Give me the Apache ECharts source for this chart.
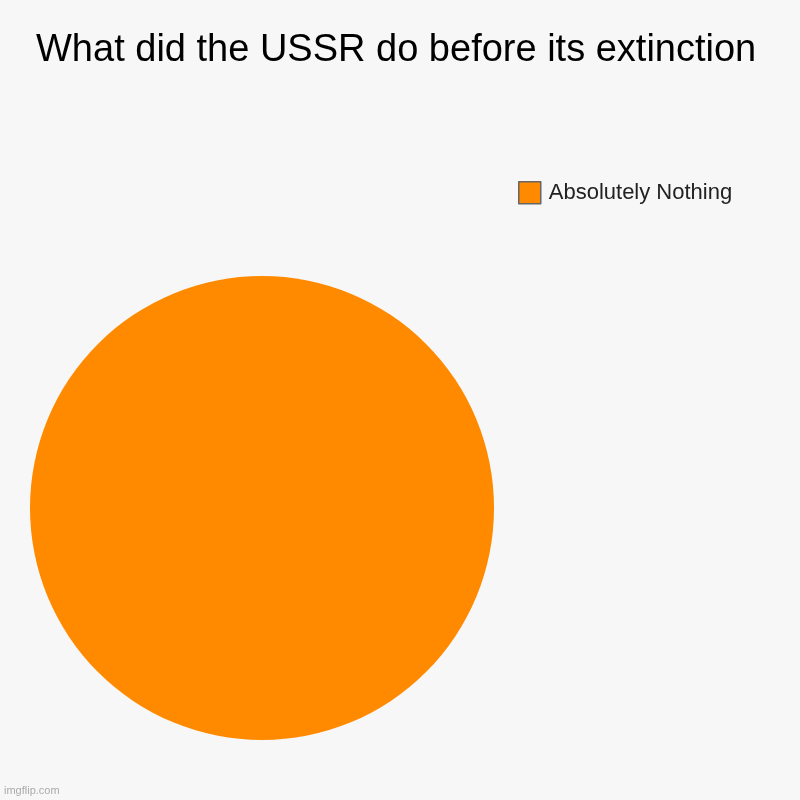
<!DOCTYPE html>
<html>
<head>
<meta charset="utf-8">
<script src="https://cdn.jsdelivr.net/npm/echarts@6/dist/echarts.min.js"></script>
<style>
  html, body { margin: 0; padding: 0; background: #f7f7f7; }
  #main { width: 800px; height: 800px; }
</style>
</head>
<body>
<div id="main"></div>
<script>
var categories = ['Absolutely Nothing'];
var values = [100];
var colors = ['#ff8a00'];

var chart = echarts.init(document.getElementById('main'));

var option = {
  backgroundColor: '#f7f7f7',
  animation: false,
  title: {
    text: 'What did the USSR do before its extinction',
    left: 31,
    top: 27,
    textStyle: {
      fontFamily: 'Liberation Sans',
      fontSize: 38,
      fontWeight: 'normal',
      color: '#000'
    }
  },
  legend: {
    left: 513,
    top: 176,
    itemWidth: 22,
    itemHeight: 22,
    itemGap: 10,
    icon: 'rect',
    data: categories,
    itemStyle: { borderColor: '#666', borderWidth: 1.5 },
    textStyle: {
      fontFamily: 'Liberation Sans',
      fontSize: 22,
      color: '#222',
      padding: [0, 0, 0, 3]
    }
  },
  graphic: [{
    type: 'text',
    left: 4,
    top: 785,
    style: {
      text: 'imgflip.com',
      font: '11px "Liberation Sans"',
      fill: '#aaa'
    }
  }],
  series: [{
    type: 'pie',
    center: [262, 508],
    radius: 232,
    label: { show: false },
    labelLine: { show: false },
    silent: true,
    data: categories.map(function (c, i) {
      return { name: c, value: values[i], itemStyle: { color: colors[i] } };
    })
  }]
};

chart.setOption(option);
</script>
</body>
</html>
